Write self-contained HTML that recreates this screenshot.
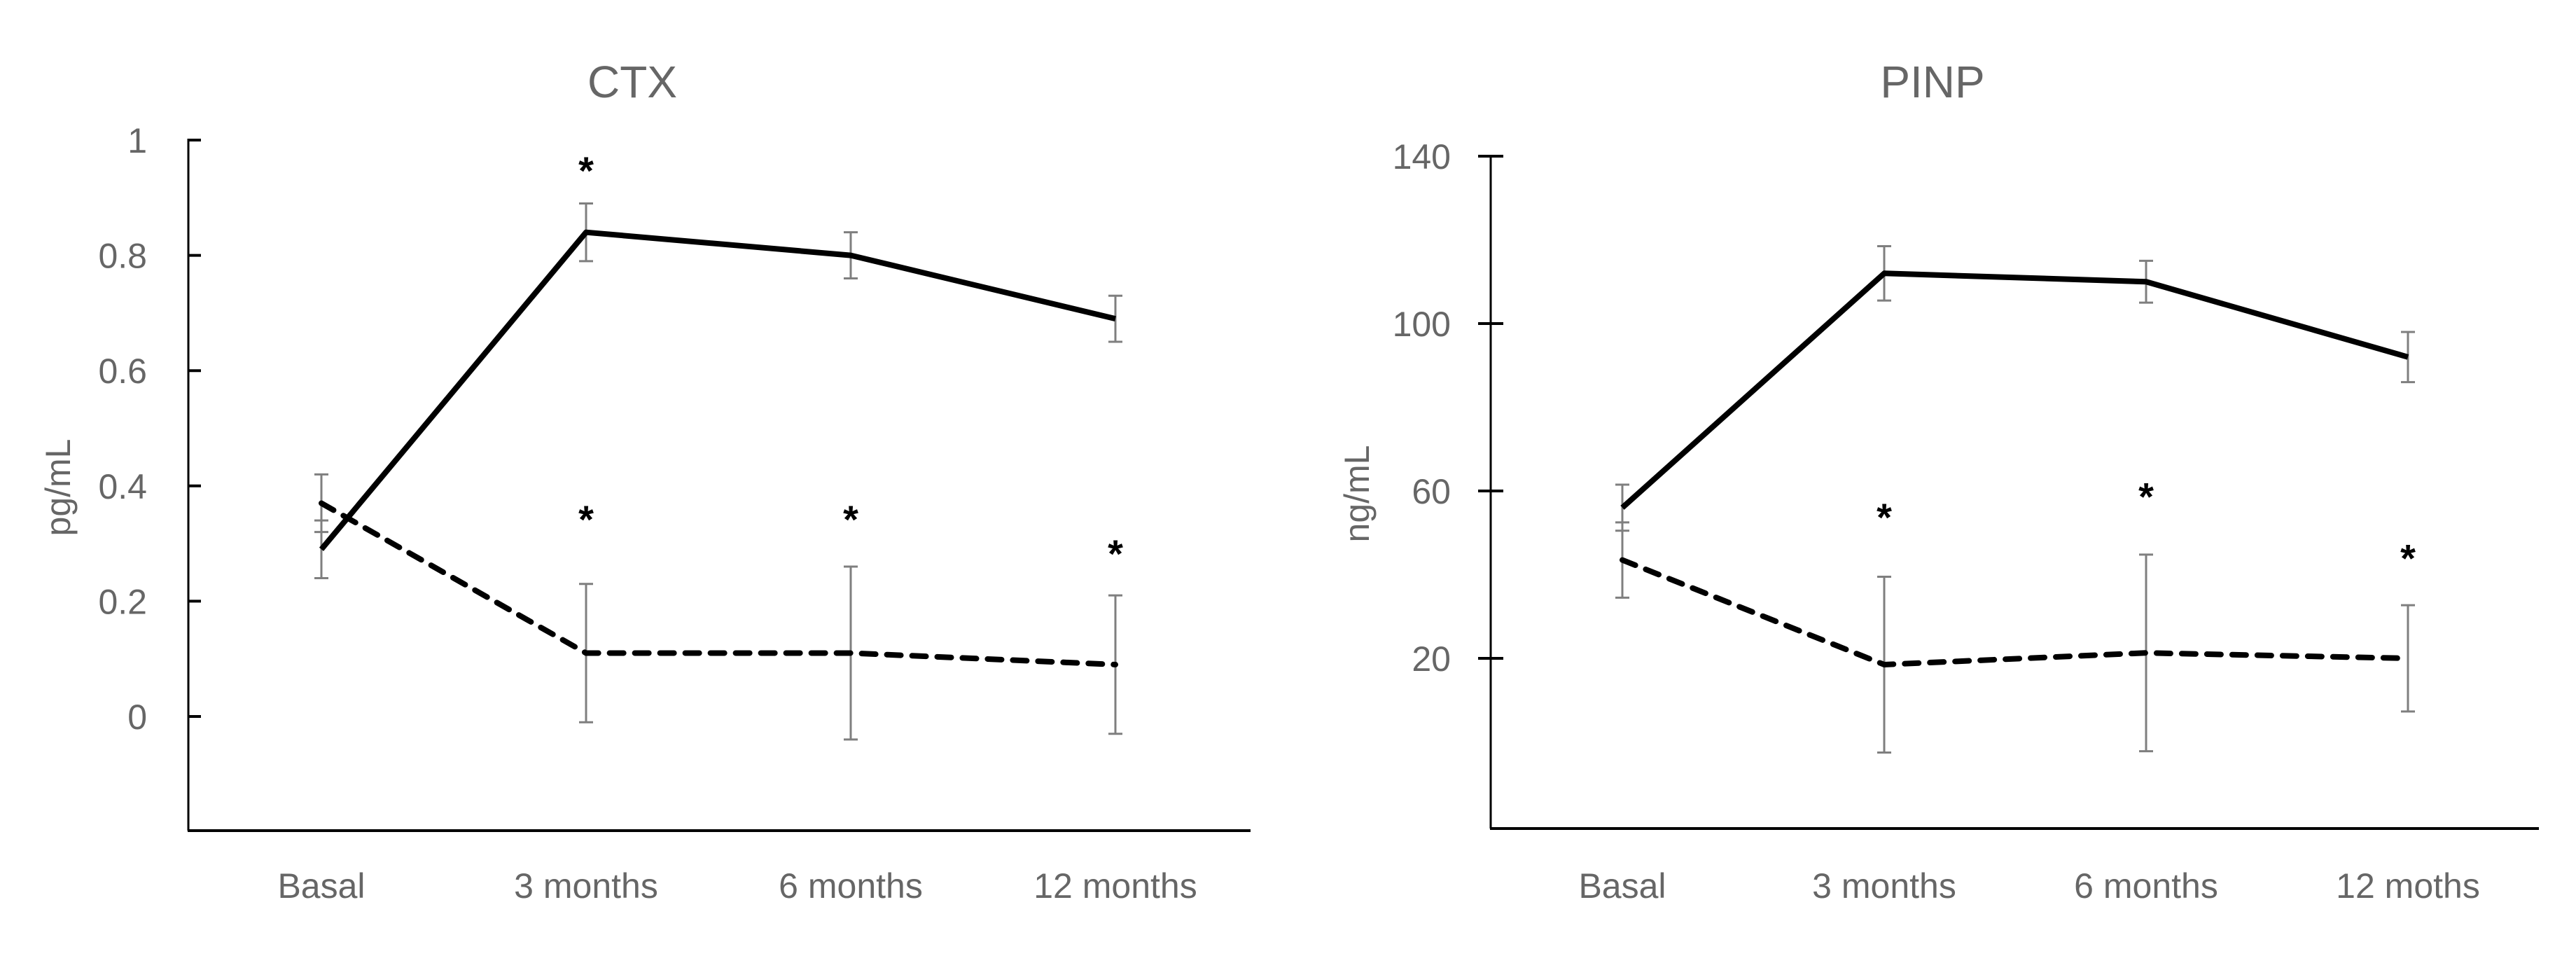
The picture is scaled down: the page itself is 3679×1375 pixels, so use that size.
<!DOCTYPE html>
<html><head><meta charset="utf-8"><style>
html,body{margin:0;padding:0;background:#fff;}
svg{display:block;}
text{font-family:"Liberation Sans",sans-serif;fill:#666;}
</style></head><body>
<svg id="c" width="3679" height="1375" viewBox="0 0 3679 1375" xmlns="http://www.w3.org/2000/svg"></svg>
<script>
const ctxCategories = ["Basal","3 months","6 months","12 months"];
const ctxSolid = [0.29,0.84,0.80,0.69];
const ctxSolidErr = [0.05,0.05,0.04,0.04];
const ctxDashed = [0.37,0.11,0.11,0.09];
const ctxDashedErr = [0.05,0.12,0.15,0.12];
const ctxTicks = [0,0.2,0.4,0.6,0.8,1];
const ctxTickLabels = ["0","0.2","0.4","0.6","0.8","1"];
const ctxStars = [[1,0.96],[1,0.355],[2,0.355],[3,0.295]];

const pinpCategories = ["Basal","3 months","6 months","12 moths"];
const pinpSolid = [56,112,110,92];
const pinpSolidErr = [5.5,6.5,5,6];
const pinpDashed = [43.5,18.5,21.3,20];
const pinpDashedErr = [9,21,23.5,12.7];
const pinpTicks = [20,60,100,140];
const pinpTickLabels = ["20","60","100","140"];
const pinpStars = [[1,55.5],[2,60.4],[3,45.7]];

const NS="http://www.w3.org/2000/svg";
const svg=document.getElementById('c');
function mk(tag,attrs,parent){const e=document.createElementNS(NS,tag);for(const k in attrs)e.setAttribute(k,attrs[k]);(parent||svg).appendChild(e);return e;}

function chart(o){
  const g=mk('g',{});
  
  
  const y=v=>o.y0+(v-o.v0)*(o.y1-o.y0)/(o.v1-o.v0);
  const x=i=>o.xs[0]+i*(o.xs[1]-o.xs[0]);
  const t=mk('text',{x:o.titleX,y:139,'font-size':64,'text-anchor':'middle'},g);t.textContent=o.title;
  
  
  const ax=mk('line',{x1:o.ax,y1:y(o.v1)-2,x2:o.ax,y2:o.bottom,stroke:'#000','stroke-width':3},g);
  
  
  const xa=mk('line',{x1:o.ax-1,y1:o.bottom,x2:o.right,y2:o.bottom,stroke:'#000','stroke-width':4},g);
  
  
  o.ticks.forEach((v,i)=>{
    const tk=mk('line',{x1:o.cross?o.ax-18:o.ax,y1:y(v),x2:o.ax+18,y2:y(v),stroke:'#000','stroke-width':4},g);
    
    
    const tl=mk('text',{x:o.labelRight,y:y(v)+18,'font-size':50,'text-anchor':'end'},g);tl.textContent=o.tickLabels[i];
    
    
  });
  o.cats.forEach((c,i)=>{
    const cl=mk('text',{x:x(i),y:1282,'font-size':50,'text-anchor':'middle'},g);cl.textContent=c;
    
    
  });
  const yt=mk('text',{x:0,y:0,'font-size':50,'text-anchor':'middle',transform:`translate(${o.ytX},${o.ytY}) rotate(-90)`},g);yt.textContent=o.yTitle;
  
  
  [[o.solid,o.solidErr],[o.dashed,o.dashedErr]].forEach(([vals,errs])=>{
    vals.forEach((v,i)=>{
      const hi=y(v+errs[i]),lo=y(v-errs[i]),cx=x(i);
      const eb=mk('path',{d:`M${cx},${hi}V${lo}M${cx-10},${hi}H${cx+10}M${cx-10},${lo}H${cx+10}`,stroke:'#7f7f7f','stroke-width':3,fill:'none'},g);
      
      
    });
  });
  const pts=a=>a.map((v,i)=>x(i)+','+y(v)).join(' ');
  const sl=mk('polyline',{points:pts(o.solid),fill:'none',stroke:'#000','stroke-width':8,'stroke-linejoin':'round'},g);
  
  
  const dl=mk('polyline',{points:pts(o.dashed),fill:'none',stroke:'#000','stroke-width':8,'stroke-dasharray':'20 16','stroke-linecap':'round'},g);
  
  
  o.stars.forEach(s=>{
    const st=mk('text',{x:x(s[0]),y:y(s[1])+30,'font-size':56,'font-weight':'bold','text-anchor':'middle',style:'fill:#000'},g);st.textContent='*';
    
    
  });
}

chart({name:'ctx-chart',title:'CTX',titleX:903,ax:269,right:1786,bottom:1186,v0:0,v1:1,y0:1023,y1:200,
  xs:[459,837],ticks:ctxTicks,tickLabels:ctxTickLabels,labelRight:210,cross:false,cats:ctxCategories,
  yTitle:'pg/mL',ytX:100,ytY:696,solid:ctxSolid,solidErr:ctxSolidErr,dashed:ctxDashed,dashedErr:ctxDashedErr,stars:ctxStars});
chart({name:'pinp-chart',title:'PINP',titleX:2760,ax:2129,right:3626,bottom:1183,v0:20,v1:140,y0:940,y1:223,
  xs:[2317,2691],ticks:pinpTicks,tickLabels:pinpTickLabels,labelRight:2072,cross:true,cats:pinpCategories,
  yTitle:'ng/mL',ytX:1955,ytY:705,solid:pinpSolid,solidErr:pinpSolidErr,dashed:pinpDashed,dashedErr:pinpDashedErr,stars:pinpStars});
</script>
</body></html>
